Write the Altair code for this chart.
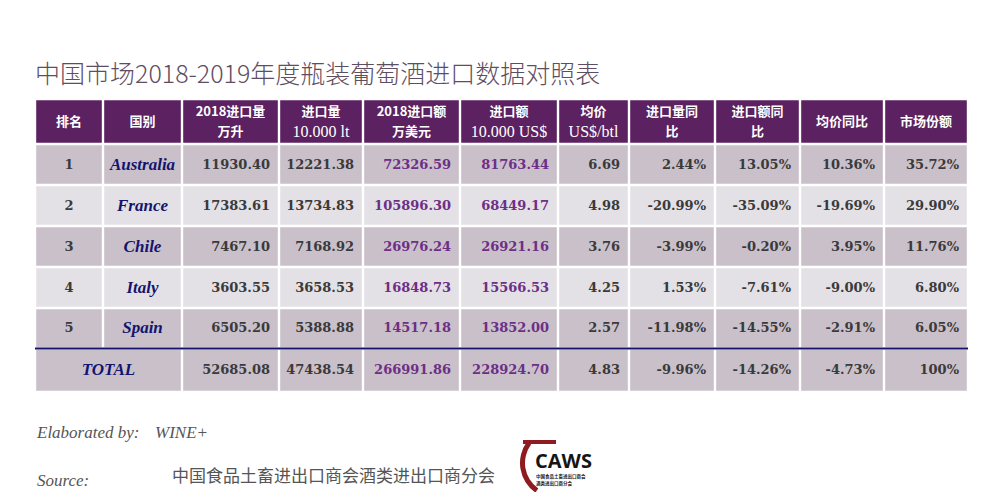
import altair as alt
import pandas as pd

# ---------------- data ----------------
title_text = "中国市场2018-2019年度瓶装葡萄酒进口数据对照表"
header_line1 = ["排名", "国别", "2018进口量", "进口量", "2018进口额", "进口额", "均价",
                "进口量同", "进口额同", "均价同比", "市场份额"]
header_line2 = ["", "", "万升", "10.000 lt", "万美元", "10.000 US$", "US$/btl", "比", "比", "", ""]
ranks = ["1", "2", "3", "4", "5"]
countries = ["Australia", "France", "Chile", "Italy", "Spain"]
vol_2018 = ["11930.40", "17383.61", "7467.10", "3603.55", "6505.20"]
vol_2019 = ["12221.38", "13734.83", "7168.92", "3658.53", "5388.88"]
val_2018 = ["72326.59", "105896.30", "26976.24", "16848.73", "14517.18"]
val_2019 = ["81763.44", "68449.17", "26921.16", "15566.53", "13852.00"]
avg_price = ["6.69", "4.98", "3.76", "4.25", "2.57"]
vol_yoy = ["2.44%", "-20.99%", "-3.99%", "1.53%", "-11.98%"]
val_yoy = ["13.05%", "-35.09%", "-0.20%", "-7.61%", "-14.55%"]
price_yoy = ["10.36%", "-19.69%", "3.95%", "-9.00%", "-2.91%"]
share = ["35.72%", "29.90%", "11.76%", "6.80%", "6.05%"]
total_label = "TOTAL"
totals = ["52685.08", "47438.54", "266991.86", "228924.70", "4.83", "-9.96%", "-14.26%", "-4.73%", "100%"]
footer_label1 = "Elaborated by:"
footer_value1 = "WINE+"
footer_label2 = "Source:"
footer_value2 = "中国食品土畜进出口商会酒类进出口商分会"
logo_text = "CAWS"
logo_sub = ["中国食品土畜进出口商会", "酒类进出口商分会"]

# ---------------- layout ----------------
col_edges = [35, 103, 182, 279, 363, 460, 558, 629, 715, 800, 884, 968]
row_edges = [99, 144, 185, 226, 267, 308, 348.5, 392]
gap = 1.2
HEADER = "#5b2160"
ODD = "#c9c0ca"
EVEN = "#e4e1e6"
DARK = "#3a3a3a"
PURPLE = "#6d2f86"
NAVY = "#14146e"

value_cols = [vol_2018, vol_2019, val_2018, val_2019, avg_price, vol_yoy, val_yoy, price_yoy, share]
value_colors = [DARK, DARK, PURPLE, PURPLE, DARK, DARK, DARK, DARK, DARK]

cells = []
for c in range(11):
    cells.append(dict(x0=col_edges[c] + gap, x1=col_edges[c + 1] - gap,
                      y0=row_edges[0] + gap, y1=row_edges[1] - gap, fill=HEADER))
for i in range(5):
    fill = ODD if i % 2 == 0 else EVEN
    for c in range(11):
        cells.append(dict(x0=col_edges[c] + gap, x1=col_edges[c + 1] - gap,
                          y0=row_edges[i + 1] + gap, y1=row_edges[i + 2] - gap, fill=fill))
cells.append(dict(x0=col_edges[0] + gap, x1=col_edges[2] - gap,
                  y0=row_edges[6] + gap, y1=row_edges[7] - gap, fill=ODD))
for c in range(2, 11):
    cells.append(dict(x0=col_edges[c] + gap, x1=col_edges[c + 1] - gap,
                      y0=row_edges[6] + gap, y1=row_edges[7] - gap, fill=ODD))
cells = pd.DataFrame(cells)

def mid(a, b):
    return (a + b) / 2

hdr_cjk, hdr_lat = [], []
for c in range(11):
    xc = mid(col_edges[c], col_edges[c + 1])
    if header_line2[c] == "":
        hdr_cjk.append(dict(x=xc, y=mid(row_edges[0], row_edges[1]), t=header_line1[c]))
    else:
        hdr_cjk.append(dict(x=xc, y=112, t=header_line1[c]))
        tgt = hdr_lat if any(ch.isascii() and ch.isalpha() or ch == "." for ch in header_line2[c]) else hdr_cjk
        tgt.append(dict(x=xc, y=132, t=header_line2[c]))
hdr_cjk = pd.DataFrame(hdr_cjk)
hdr_lat = pd.DataFrame(hdr_lat)

row_y = [mid(row_edges[i + 1], row_edges[i + 2]) for i in range(5)]
total_y = mid(row_edges[6], row_edges[7])

rank_df = pd.DataFrame(dict(x=[mid(col_edges[0], col_edges[1])] * 5, y=row_y, t=ranks))
country_df = pd.DataFrame(dict(x=[mid(col_edges[1], col_edges[2])] * 5, y=row_y, t=countries))
total_df = pd.DataFrame(dict(x=[mid(col_edges[0], col_edges[2])], y=[total_y], t=[total_label]))

vals = []
for k, col in enumerate(value_cols):
    xr = col_edges[k + 3] - 9
    for i, v in enumerate(col):
        vals.append(dict(x=xr, y=row_y[i], t=v, color=value_colors[k]))
    vals.append(dict(x=xr, y=total_y, t=totals[k], color=value_colors[k]))
vals = pd.DataFrame(vals)

X = alt.Scale(domain=[8, 992], range=[0, 984])
Y = alt.Scale(domain=[8, 492], range=[0, 484])

def xy(df):
    return alt.Chart(df).encode(
        x=alt.X("x:Q", scale=X, axis=None),
        y=alt.Y("y:Q", scale=Y, axis=None),
        text="t:N",
    )

rects = alt.Chart(cells).mark_rect().encode(
    x=alt.X("x0:Q", scale=X, axis=None), x2="x1:Q",
    y=alt.Y("y0:Q", scale=Y, axis=None), y2="y1:Q",
    color=alt.Color("fill:N", scale=None),
)

line_df = pd.DataFrame(dict(x0=[col_edges[0]], x1=[col_edges[-1]], y=[row_edges[6]]))
navy_line = alt.Chart(line_df).mark_rule(color=NAVY, strokeWidth=2).encode(
    x=alt.X("x0:Q", scale=X, axis=None), x2="x1:Q",
    y=alt.Y("y:Q", scale=Y, axis=None),
)

hdr1 = xy(hdr_cjk).mark_text(font="Noto Sans CJK SC", fontWeight="bold", fontSize=13,
                             color="white", align="center", baseline="middle")
hdr2 = xy(hdr_lat).mark_text(font="Liberation Serif", fontSize=16,
                             color="white", align="center", baseline="middle")
rank_t = xy(rank_df).mark_text(font="DejaVu Serif", fontWeight="bold", fontSize=13,
                               color=DARK, align="center", baseline="middle")
country_t = xy(country_df).mark_text(font="Liberation Serif", fontWeight="bold", fontStyle="italic",
                                     fontSize=17, color=NAVY, align="center", baseline="middle")
total_t = xy(total_df).mark_text(font="Liberation Serif", fontWeight="bold", fontStyle="italic",
                                 fontSize=17, color=NAVY, align="center", baseline="middle")
val_t = alt.Chart(vals).mark_text(font="DejaVu Serif", fontWeight="bold", fontSize=13,
                                  align="right", baseline="middle").encode(
    x=alt.X("x:Q", scale=X, axis=None),
    y=alt.Y("y:Q", scale=Y, axis=None),
    text="t:N",
    color=alt.Color("color:N", scale=None),
)

title_t = xy(pd.DataFrame(dict(x=[35], y=[83], t=[title_text]))).mark_text(
    font="Noto Sans CJK SC", fontWeight=300, fontSize=25, color="#5e4e62",
    align="left", baseline="alphabetic")

foot_lat = xy(pd.DataFrame(dict(x=[37, 155, 37], y=[438, 438, 486],
                                t=[footer_label1, footer_value1, footer_label2]))).mark_text(
    font="Liberation Serif", fontStyle="italic", fontSize=17, color="#555555",
    align="left", baseline="alphabetic")
foot_cjk = xy(pd.DataFrame(dict(x=[172], y=[482], t=[footer_value2]))).mark_text(
    font="Noto Sans CJK SC", fontSize=17, color="#555555", align="left", baseline="alphabetic")

logo_main = xy(pd.DataFrame(dict(x=[535], y=[468], t=[logo_text]))).mark_text(
    font="Open Sans", fontWeight="bold", fontSize=20, color="#151515",
    align="left", baseline="alphabetic")
logo_small = xy(pd.DataFrame(dict(x=[536, 536], y=[477, 484], t=logo_sub))).mark_text(
    font="Noto Sans CJK SC", fontWeight="bold", fontSize=4.5, color="#222222",
    align="left", baseline="middle")
logo_arc = alt.Chart(pd.DataFrame(dict(x=[556], y=[463]))).mark_arc(
    color="#8e1b1f", radius=31, radius2=36, theta=3.75, theta2=5.35).encode(
    x=alt.X("x:Q", scale=X, axis=None), y=alt.Y("y:Q", scale=Y, axis=None))
logo_bar = alt.Chart(pd.DataFrame(dict(x0=[523], x1=[556], y0=[440], y1=[444]))).mark_rect(
    color="#8e1b1f").encode(
    x=alt.X("x0:Q", scale=X, axis=None), x2="x1:Q",
    y=alt.Y("y0:Q", scale=Y, axis=None), y2="y1:Q")

chart = alt.layer(
    rects, navy_line, hdr1, hdr2, rank_t, country_t, total_t, val_t,
    title_t, foot_lat, foot_cjk, logo_arc, logo_bar, logo_main, logo_small,
).properties(
    width=984, height=484, padding=0, autosize=alt.AutoSizeParams(type="none"),
    background="white",
).configure_view(stroke=None)

chart.save("out.html", embed_options={"renderer": "svg", "actions": False})
